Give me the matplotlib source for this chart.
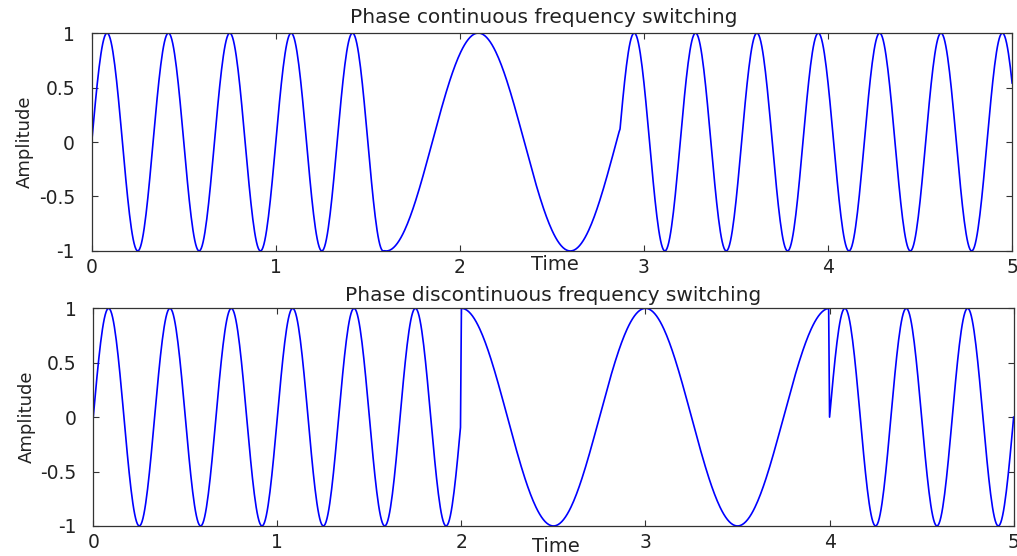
import numpy as np
import matplotlib.pyplot as plt

# sampling of the time axis
t_start, t_stop, dt = 0.0, 5.0, 0.005

# phase continuous: segment start times, frequency (Hz), time delay of each sine (s)
cont_switch = [0.0, 1.59, 2.87]
cont_freq = [3.0, 1.0, 3.0]
cont_delay = [0.0, 1.85, 0.197]

# phase discontinuous: switch exactly at t = 2 and t = 4
disc_switch = [0.0, 2.0, 4.0]
disc_freq = [3.0, 1.0, 3.0]
disc_delay = [0.0, 0.75, 0.0]

titles = ['Phase continuous frequency switching',
          'Phase discontinuous frequency switching']
xticks = [0, 1, 2, 3, 4, 5]
yticks = [-1, -0.5, 0, 0.5, 1]
yticklabels = ['-1', '-0.5', '0', '0.5', '1']


def fsk(t, starts, freqs, delays):
    y = np.zeros_like(t)
    for i in range(len(starts)):
        m = t >= starts[i]
        y[m] = np.sin(2 * np.pi * freqs[i] * (t[m] - delays[i]))
    return y


t = np.arange(t_start, t_stop + dt / 2, dt)
y_cont = fsk(t, cont_switch, cont_freq, cont_delay)
y_disc = fsk(t, disc_switch, disc_freq, disc_delay)

txt = '#222222'
fig = plt.figure(figsize=(10.17, 5.56), dpi=100)
ax1 = fig.add_axes([0.0902, 0.5486, 0.905, 0.392])
ax2 = fig.add_axes([0.0917, 0.054, 0.905, 0.3915])

for ax, y, title, tx, ty, xl_y in [(ax1, y_cont, titles[0], 0.491, 1.069, -0.064),
                                   (ax2, y_disc, titles[1], 0.4995, 1.061, -0.096)]:
    ax.plot(t, y, color='#0000ff', lw=1.2)
    ax.set_xlim(0, 5)
    ax.set_ylim(-1, 1)
    ax.set_xticks(xticks)
    ax.set_xticklabels([str(v) for v in xticks])
    ax.set_yticks(yticks)
    ax.set_yticklabels(yticklabels)
    ax.tick_params(direction='in', top=True, right=True, length=4, width=0.8,
                   color='#333333', labelsize=13.5, labelcolor=txt)
    ax.tick_params(axis='x', pad=5)
    ax.tick_params(axis='y', pad=12)
    for s in ax.spines.values():
        s.set_color('#333333')
        s.set_linewidth(0.9)
    ax.text(tx, ty, title, transform=ax.transAxes, ha='center', va='center',
            fontsize=14.5, color=txt)
    ax.text(0.503, xl_y, 'Time', transform=ax.transAxes, ha='center', va='center',
            fontsize=14, color=txt)
    ax.text(-0.0725, 0.5, 'Amplitude', transform=ax.transAxes, ha='center',
            va='center', rotation=90, fontsize=13, color=txt)

fig.savefig('out.png', dpi=100)
